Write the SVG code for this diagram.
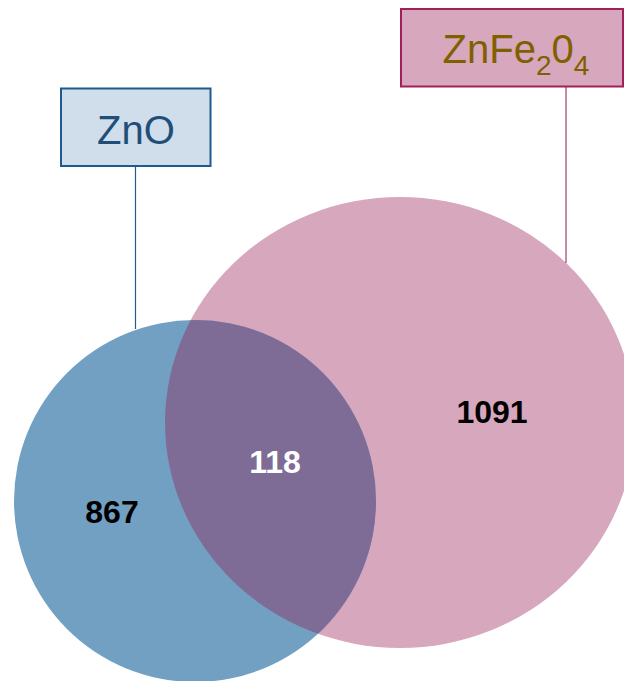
<svg xmlns="http://www.w3.org/2000/svg" width="624" height="681" viewBox="0 0 624 681">
<style>
.num{font-family:"Liberation Sans",Arial,sans-serif;font-weight:bold;font-size:32px;text-anchor:middle}
.lbl{font-family:"Liberation Sans",Arial,sans-serif;font-size:40px;text-anchor:middle}
</style>
<defs>
<clipPath id="clipBlue"><circle cx="195" cy="501" r="181"/></clipPath>
</defs>
<rect width="624" height="681" fill="#ffffff"/>
<g id="set-znfe2o4">
<ellipse cx="400" cy="422.5" rx="235" ry="225.5" fill="#d7a7bd"/>
</g>
<g id="set-zno">
<circle cx="195" cy="501" r="181" fill="#71a0c3"/>
</g>
<g id="overlap">
<ellipse cx="400" cy="422.5" rx="235" ry="225.5" fill="#7f6c96" clip-path="url(#clipBlue)"/>
</g>
<g id="connectors">
<line x1="135.5" y1="166" x2="135.5" y2="329" stroke="#1f5a8f" stroke-width="1.2"/>
<line x1="566" y1="86" x2="566" y2="263" stroke="#a63a72" stroke-width="1.2"/>
</g>
<g id="label-zno">
<rect x="61" y="88.5" width="149.5" height="77.5" fill="#cfdeea" stroke="#1f5a8f" stroke-width="2"/>
<text x="136" y="144" class="lbl" fill="#1f4e79">ZnO</text>
</g>
<g id="label-znfe2o4">
<rect x="401" y="9" width="222" height="77.5" fill="#d7a7bd" stroke="#a0205a" stroke-width="2"/>
<text x="516" y="63" class="lbl" fill="#7f6000">ZnFe<tspan font-size="28" dy="12">2</tspan><tspan dy="-12">0</tspan><tspan font-size="28" dy="12">4</tspan></text>
</g>
<g id="counts">
<text x="112" y="523" class="num" fill="#000000">867</text>
<text x="275" y="473" class="num" fill="#ffffff">118</text>
<text x="492" y="423" class="num" fill="#000000">1091</text>
</g>
</svg>
